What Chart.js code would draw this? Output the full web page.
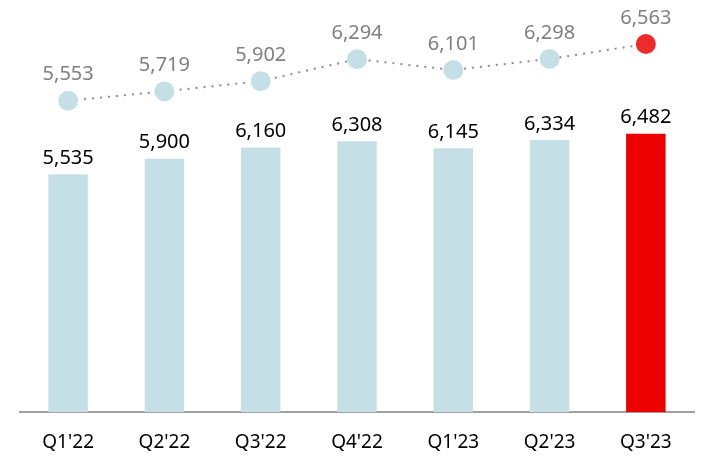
<!DOCTYPE html>
<html>
<head>
<meta charset="utf-8">
<script src="https://cdn.jsdelivr.net/npm/chart.js@4/dist/chart.umd.min.js"></script>
<style>
  html, body { margin: 0; padding: 0; background: #fff; }
  #wrap { width: 714px; height: 470px; }
</style>
</head>
<body>
<div id="wrap"><canvas id="chart"></canvas></div>
<script>
// dados do gráfico
const quarters = ["Q1'22", "Q2'22", "Q3'22", "Q4'22", "Q1'23", "Q2'23", "Q3'23"];
const barValues = [5535, 5900, 6160, 6308, 6145, 6334, 6482];
const lineValues = [5553, 5719, 5902, 6294, 6101, 6298, 6563];

const blue = '#c5dfe7';
const red = '#ec0000';
const fmt = v => v.toLocaleString('en-US');

// escreve os valores acima das barras e dos pontos
const valueLabels = {
  id: 'valueLabels',
  afterDatasetsDraw(chart) {
    const c = chart.ctx;
    c.save();
    c.textAlign = 'center';
    c.textBaseline = 'bottom';
    c.font = '20px "Noto Sans", "Open Sans", sans-serif';
    chart.getDatasetMeta(0).data.forEach((el, i) => {
      c.fillStyle = '#808080';
      c.fillText(fmt(lineValues[i]), el.x, el.y - 16);
    });
    chart.getDatasetMeta(1).data.forEach((el, i) => {
      c.fillStyle = '#000';
      c.fillText(fmt(barValues[i]), el.x, el.y - 6);
    });
    c.restore();
  }
};

const ctx = document.getElementById('chart').getContext('2d');
new Chart(ctx, {
  data: {
    labels: quarters,
    datasets: [
      {
        type: 'line',
        data: lineValues,
        yAxisID: 'y2',
        borderColor: '#8c8c8c',
        borderWidth: 2,
        borderDash: [2, 6],
        pointRadius: 10,
        pointHoverRadius: 10,
        pointBorderWidth: 0,
        pointBackgroundColor: lineValues.map((v, i) => i === lineValues.length - 1 ? '#ee2a2a' : blue),
        fill: false,
        tension: 0
      },
      {
        type: 'bar',
        data: barValues,
        yAxisID: 'y',
        backgroundColor: barValues.map((v, i) => i === barValues.length - 1 ? red : blue),
        barPercentage: 0.41,
        categoryPercentage: 1
      }
    ]
  },
  options: {
    responsive: true,
    maintainAspectRatio: false,
    animation: false,
    layout: { padding: { left: 20, right: 20, top: 0, bottom: 5 } },
    plugins: { legend: { display: false }, tooltip: { enabled: false } },
    scales: {
      x: {
        grid: { display: false },
        border: { display: true, color: '#a0a0a0', width: 2 },
        ticks: {
          color: '#000',
          padding: 11,
          font: { family: '"Noto Sans", "Open Sans", sans-serif', size: 19 }
        }
      },
      y: { display: false, min: 0, max: 9360 },
      y2: { display: false, min: 0, max: 7170 }
    }
  },
  plugins: [valueLabels]
});
</script>
</body>
</html>
